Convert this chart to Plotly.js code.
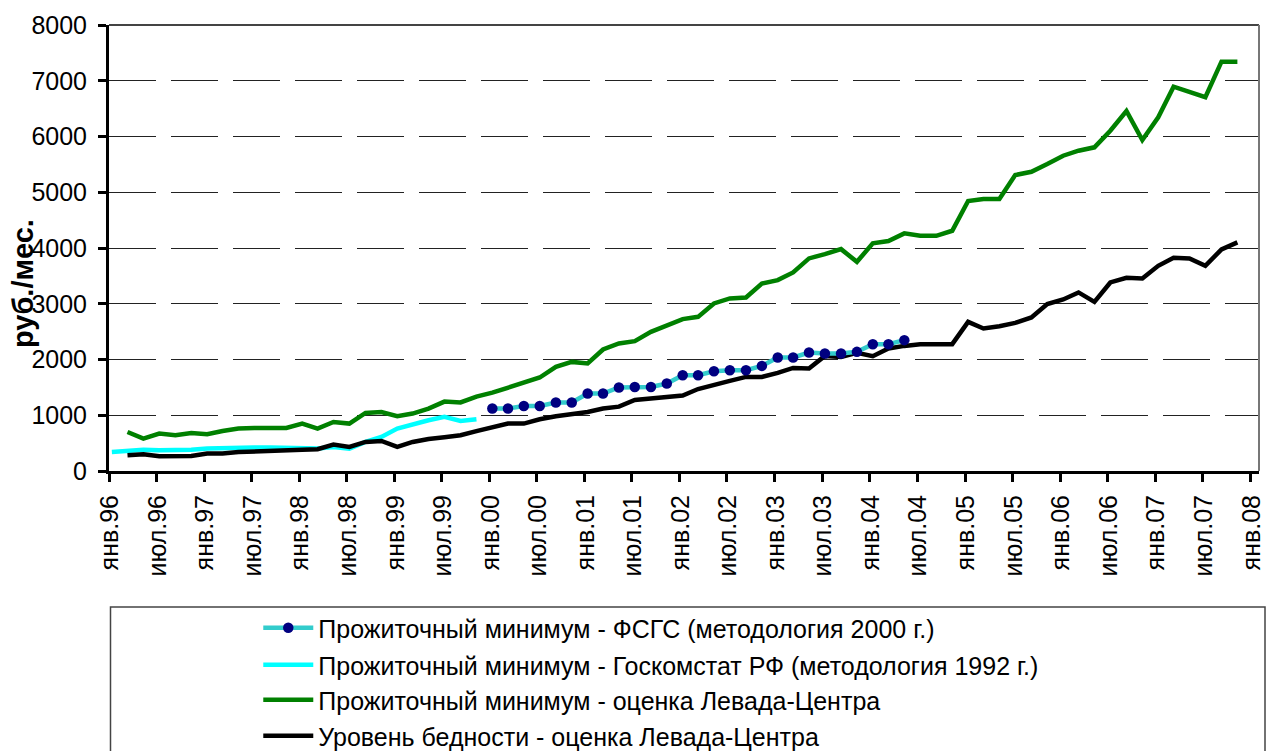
<!DOCTYPE html>
<html>
<head>
<meta charset="utf-8">
<script src="https://cdn.plot.ly/plotly-3.0.1.min.js"></script>
<style>
html,body{margin:0;padding:0;background:#fff;}
#chart{width:1266px;height:751px;}
</style>
</head>
<body>
<div id="chart"></div>
<script>
// ---- Data (bimonthly observations) ----
const monthsLevada = [
  "1996-03","1996-05","1996-07","1996-09","1996-11",
  "1997-01","1997-03","1997-05","1997-07","1997-09","1997-11",
  "1998-01","1998-03","1998-05","1998-07","1998-09","1998-11",
  "1999-01","1999-03","1999-05","1999-07","1999-09","1999-11",
  "2000-01","2000-03","2000-05","2000-07","2000-09","2000-11",
  "2001-01","2001-03","2001-05","2001-07","2001-09","2001-11",
  "2002-01","2002-03","2002-05","2002-07","2002-09","2002-11",
  "2003-01","2003-03","2003-05","2003-07","2003-09","2003-11",
  "2004-01","2004-03","2004-05","2004-07","2004-09","2004-11",
  "2005-01","2005-03","2005-05","2005-07","2005-09","2005-11",
  "2006-01","2006-03","2006-05","2006-07","2006-09","2006-11",
  "2007-01","2007-03","2007-05","2007-07","2007-09","2007-11"
];
const levadaMinimum = [
  700, 582, 671, 641, 682,
  659, 718, 761, 772, 772, 772,
  851, 761, 880, 851, 1041, 1059,
  982, 1030, 1120, 1245, 1230, 1335,
  1405, 1497, 1587, 1677, 1867, 1957,
  1928, 2179, 2287, 2329, 2496, 2616,
  2724, 2765, 3005, 3095, 3113, 3364,
  3424, 3562, 3813, 3890, 3980, 3752,
  4083, 4124, 4262, 4219, 4219, 4309,
  4842, 4878, 4878, 5309, 5368, 5506,
  5655, 5745, 5806, 6104, 6458, 5937,
  6345, 6894, 6800, 6704, 7343, 7343
];
const levadaPoverty = [
  282, 300, 264, 264, 270,
  312, 312, 341, 355, 371, 380,
  380, 390, 473, 431, 521, 539,
  431, 521, 575, 605, 641, 715,
  775, 851, 851, 928, 982, 1013,
  1059, 1120, 1155, 1275, 1305, 1335,
  1353, 1470, 1551, 1616, 1688, 1688,
  1759, 1849, 1838, 2065, 2047, 2118,
  2059, 2197, 2244, 2275, 2275, 2275,
  2675, 2556, 2598, 2657, 2754, 2993,
  3077, 3203, 3034, 3382, 3465, 3454,
  3680, 3824, 3813, 3680, 3975, 4100
];
const monthsGks1992 = [
  "1996-01","1996-03","1996-05","1996-07","1996-09","1996-11",
  "1997-01","1997-03","1997-05","1997-07","1997-09","1997-11",
  "1998-01","1998-03","1998-05","1998-07","1998-09","1998-11",
  "1999-01","1999-03","1999-05","1999-07","1999-09","1999-11"
];
const gks1992Minimum = [
  341, 371, 382, 371, 371, 382,
  402, 412, 412, 420, 420, 412,
  412, 402, 431, 402, 521, 611,
  761, 838, 910, 970, 898, 928
];
const monthsFsgs2000 = [
  "2000-01","2000-03","2000-05","2000-07","2000-09","2000-11",
  "2001-01","2001-03","2001-05","2001-07","2001-09","2001-11",
  "2002-01","2002-03","2002-05","2002-07","2002-09","2002-11",
  "2003-01","2003-03","2003-05","2003-07","2003-09","2003-11",
  "2004-01","2004-03","2004-05"
];
const fsgs2000Minimum = [
  1120, 1120, 1167, 1167, 1228, 1228,
  1390, 1390, 1498, 1508, 1508, 1569,
  1718, 1718, 1790, 1808, 1808, 1885,
  2036, 2036, 2126, 2108, 2108, 2137,
  2275, 2275, 2347
];
const tickDates = [
  "1996-01","1996-07","1997-01","1997-07","1998-01","1998-07","1999-01","1999-07",
  "2000-01","2000-07","2001-01","2001-07","2002-01","2002-07","2003-01","2003-07",
  "2004-01","2004-07","2005-01","2005-07","2006-01","2006-07","2007-01","2007-07","2008-01"
];
const tickLabels = [
  "янв.96","июл.96","янв.97","июл.97","янв.98","июл.98","янв.99","июл.99",
  "янв.00","июл.00","янв.01","июл.01","янв.02","июл.02","янв.03","июл.03",
  "янв.04","июл.04","янв.05","июл.05","янв.06","июл.06","янв.07","июл.07","янв.08"
];
const seriesNames = [
  "Прожиточный минимум - ФСГС (методология 2000 г.)",
  "Прожиточный минимум - Госкомстат РФ (методология 1992 г.)",
  "Прожиточный минимум - оценка Левада-Центра",
  "Уровень бедности - оценка Левада-Центра"
];
const yTitle = "руб./мес.";

// ---- Build ----
const pos = m => m + "-12";
const FONT = "Arial, 'Liberation Sans', sans-serif";
const FS = 25;

const traces = [
  {
    x: monthsGks1992.map(pos), y: gks1992Minimum, name: seriesNames[1],
    type: "scatter", mode: "lines", legend: "legend2",
    line: {color: "#00FFFF", width: 4.5}
  },
  {
    x: monthsLevada.map(pos), y: levadaMinimum, name: seriesNames[2],
    type: "scatter", mode: "lines", legend: "legend3",
    line: {color: "#008000", width: 4.5}
  },
  {
    x: monthsLevada.map(pos), y: levadaPoverty, name: seriesNames[3],
    type: "scatter", mode: "lines", legend: "legend4",
    line: {color: "#000000", width: 4.5}
  },
  {
    x: monthsFsgs2000.map(pos), y: fsgs2000Minimum, name: seriesNames[0],
    type: "scatter", mode: "lines+markers", legend: "legend",
    line: {color: "#33CCCC", width: 4.5},
    marker: {color: "#000080", size: 10.5}
  }
];

const legFont = {family: FONT, size: FS, color: "#000"};
function leg(y) {
  return {x: 0.1298, y: y, xanchor: "left", yanchor: "middle", xref: "paper", yref: "paper",
          font: legFont, bgcolor: "rgba(0,0,0,0)", borderwidth: 0, itemwidth: 50,
          itemclick: false, itemdoubleclick: false};
}

const layout = {
  width: 1266, height: 751,
  margin: {l: 109, r: 7, t: 25, b: 280, pad: 0, autoexpand: false},
  paper_bgcolor: "#ffffff", plot_bgcolor: "#ffffff",
  font: {family: FONT, size: FS, color: "#000"},
  showlegend: true,
  legend: leg((471 - 628) / 446),
  legend2: leg((471 - 665) / 446),
  legend3: leg((471 - 700) / 446),
  legend4: leg((471 - 736) / 446),
  xaxis: {
    type: "date",
    range: ["1996-01-01", "2008-02-03"],
    tickmode: "array",
    tickvals: tickDates.map(d => d + "-01"),
    ticktext: tickLabels,
    tickangle: -90,
    ticks: "outside", ticklen: 8, tickwidth: 3, tickcolor: "#000",
    showline: true, linecolor: "#000", linewidth: 3,
    showgrid: false, zeroline: false,
    tickfont: {family: FONT, size: FS, color: "#000"},
    ticklabelshift: 1,
    ticklabelstandoff: 3,
    ticklabeloverflow: "allow",
    automargin: false,
    fixedrange: true
  },
  yaxis: {
    range: [0, 8000],
    tickmode: "linear", tick0: 0, dtick: 1000,
    ticks: "outside", ticklen: 8, tickwidth: 3, tickcolor: "#000",
    showline: true, linecolor: "#000", linewidth: 3,
    showgrid: true, gridcolor: "#222", gridwidth: 1, griddash: "47px,15px",
    zeroline: false,
    tickfont: {family: FONT, size: FS, color: "#000"},
    ticklabelstandoff: 6,
    automargin: false,
    fixedrange: true
  },
  shapes: [
    {type: "line", xref: "paper", yref: "paper", x0: 0, x1: 1, y0: 1, y1: 1,
     line: {color: "#444", width: 2}},
    {type: "line", xref: "paper", yref: "paper", x0: 1, x1: 1, y0: 0, y1: 1,
     line: {color: "#777", width: 2}},
    {type: "rect", xref: "paper", yref: "paper",
     x0: (110.5 - 109) / 1150, x1: (1265 - 109) / 1150,
     y0: (471 - 607) / 446, y1: (471 - 800) / 446,
     line: {color: "#444", width: 1.5}, fillcolor: "rgba(0,0,0,0)"}
  ],
  annotations: [
    {text: "<b>" + yTitle + "</b>", xref: "paper", yref: "paper",
     x: (23 - 109) / 1150, y: (471 - 284) / 446, xanchor: "center", yanchor: "middle",
     textangle: -90, showarrow: false,
     font: {family: FONT, size: 29, color: "#000"}}
  ]
};

Plotly.newPlot("chart", traces, layout, {displayModeBar: false, staticPlot: true});
</script>
</body>
</html>
